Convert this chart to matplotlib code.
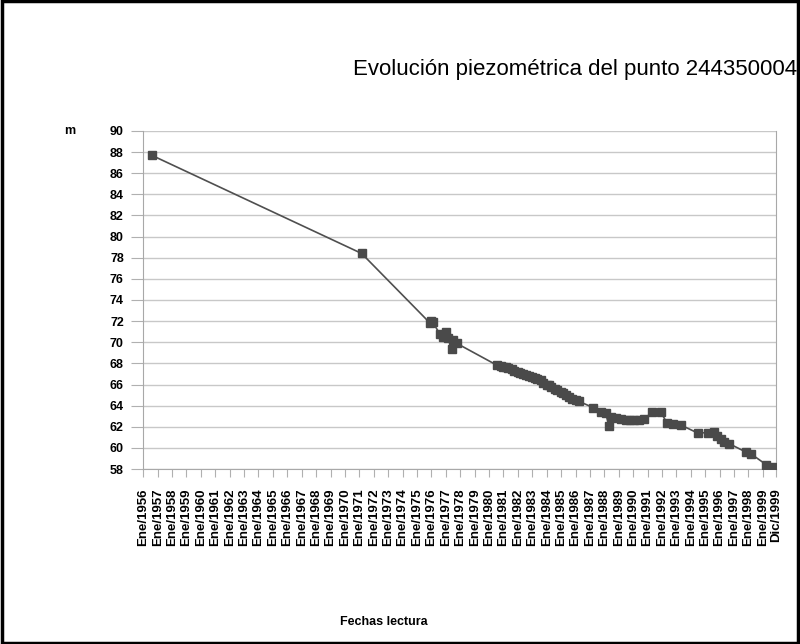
import matplotlib.pyplot as plt
import pandas as pd
from matplotlib.patches import Rectangle

# fechas de lectura (año-mes) y nivel piezométrico (m)
fechas = ['1956-08', '1971-03',
          '1975-12', '1976-01', '1976-02', '1976-08', '1976-11', '1977-01',
          '1977-03', '1977-06', '1977-07', '1977-10',
          '1980-08', '1980-11', '1981-01', '1981-03', '1981-05', '1981-08',
          '1981-10', '1982-01', '1982-03', '1982-05', '1982-08', '1982-10',
          '1983-01', '1983-03', '1983-05', '1983-08', '1983-10', '1984-01',
          '1984-03', '1984-05', '1984-08', '1984-10', '1985-01', '1985-03',
          '1985-05', '1985-08', '1985-10', '1986-01', '1986-04',
          '1987-04', '1987-10', '1988-02', '1988-05', '1988-07', '1988-11',
          '1989-03', '1989-07', '1989-10', '1990-02', '1990-06', '1990-10',
          '1991-05', '1991-12', '1992-05', '1992-10', '1993-05',
          '1994-07', '1995-03', '1995-08', '1995-11', '1996-02', '1996-05',
          '1996-09', '1997-11', '1998-03', '1999-04', '1999-09', '1999-12']
niveles = [87.7, 78.4,
           71.8, 72.0, 71.9, 70.8, 70.5, 71.0,
           70.4, 69.4, 70.2, 69.9,
           67.8, 67.75, 67.7, 67.7, 67.6, 67.45,
           67.3, 67.2, 67.1, 67.0, 66.9, 66.85,
           66.75, 66.65, 66.5, 66.4, 66.1, 66.0,
           65.95, 65.8, 65.6, 65.5, 65.3, 65.15,
           65.0, 64.8, 64.6, 64.5, 64.4,
           63.8, 63.4, 63.3, 62.1, 62.9, 62.8,
           62.7, 62.6, 62.6, 62.6, 62.65, 62.7,
           63.4, 63.4, 62.4, 62.3, 62.15,
           61.4, 61.45, 61.5, 61.1, 60.8, 60.6,
           60.4, 59.6, 59.45, 58.4, 58.2, 58.05]

anios = list(range(1956, 2000))
tick_fechas = [f'{a}-01' for a in anios] + ['1999-12']
tick_labels = [f'Ene/{a}' for a in anios] + ['Dic/1999']
y_ticks = list(range(58, 91, 2))

fig = plt.figure(figsize=(8, 6.44), dpi=100)
ax = fig.add_axes([0.179, 0.2717, 0.791, 0.525])

x = pd.to_datetime(fechas)
ax.plot(x, niveles, color='#4f4f4f', lw=1.2, marker='s', ms=6,
        mfc='#4a4a4a', mec='#4a4a4a', zorder=3)

ax.set_xlim(pd.Timestamp('1956-01-01'), pd.Timestamp('1999-12-01'))
ax.set_ylim(58, 90)
ax.set_yticks(y_ticks)
ax.set_yticklabels([str(v) for v in y_ticks], fontfamily='Liberation Sans',
                   fontweight='bold', fontsize=9)
ax.set_xticks(pd.to_datetime(tick_fechas))
ax.set_xticklabels(tick_labels, rotation=90, fontfamily='Liberation Sans',
                   fontweight='bold', fontsize=9.5)
ax.tick_params(axis='y', length=9, color='#b0b0b0', pad=5)
ax.tick_params(axis='x', length=6, color='#b0b0b0', pad=8)

ax.grid(axis='y', color='#c8c8c8', lw=1)
for s in ['left', 'right', 'bottom']:
    ax.spines[s].set_color('#a8a8a8')
ax.spines['top'].set_visible(False)

fig.text(0.997, 0.884, 'Evolución piezométrica del punto 244350004', ha='right',
         fontfamily='Liberation Sans', fontsize=16)
fig.text(0.08, 0.796, 'm', fontfamily='Liberation Sans', fontweight='bold',
         fontsize=9, va='center')
fig.text(0.48, 0.03, 'Fechas lectura', ha='center', fontfamily='Liberation Sans',
         fontweight='bold', fontsize=9)

fig.patches.append(Rectangle((0.002, 0.002), 0.996, 0.996, transform=fig.transFigure,
                             fill=False, edgecolor='black', lw=2.5))

fig.savefig('out.png', dpi=100)
